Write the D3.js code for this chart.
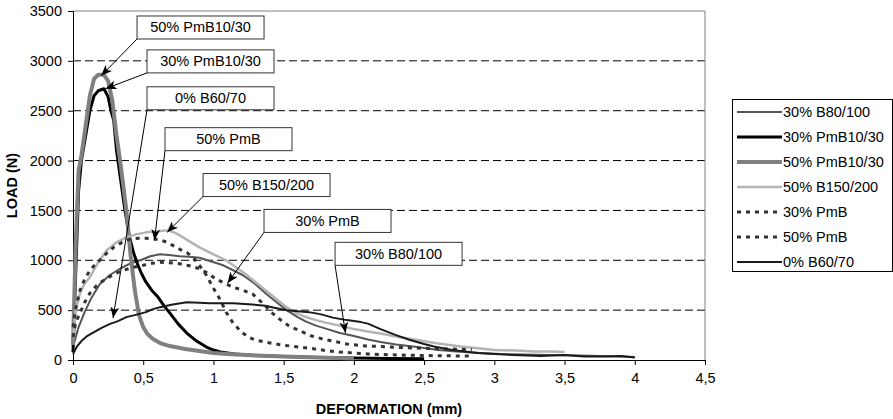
<!DOCTYPE html>
<html>
<head>
<meta charset="utf-8">
<script src="https://cdn.jsdelivr.net/npm/d3@7"></script>
<style>
  body { margin: 0; background: #fff; }
  svg { display: block; font-family: "Liberation Sans", Arial, sans-serif; }
</style>
</head>
<body>
<div id="vizContainer"></div>
<script>
// deformation (mm), load (N) pairs
const b80_100 = [[0,130],[0.04,330],[0.08,470],[0.13,620],[0.19,760],[0.26,850],[0.34,920],[0.41,970],[0.48,1000],[0.55,1040],[0.62,1060],[0.7,1050],[0.76,1040],[0.83,1035],[0.9,1025],[0.98,990],[1.07,950],[1.14,900],[1.21,850],[1.3,760],[1.37,670],[1.45,580],[1.52,500],[1.6,430],[1.66,385],[1.73,345],[1.8,315],[1.9,270],[2.0,240],[2.1,205],[2.19,180],[2.3,155],[2.45,130],[2.6,100],[2.73,85],[2.9,70],[3.04,60],[3.2,55],[3.4,50],[3.6,45],[3.75,40],[3.9,35],[4.0,30]];
const pmb10_30_30 = [[0,80],[0.02,900],[0.04,1700],[0.06,2000],[0.09,2250],[0.12,2500],[0.15,2650],[0.18,2700],[0.22,2720],[0.25,2640],[0.27,2500],[0.29,2400],[0.31,2100],[0.34,1800],[0.37,1500],[0.4,1250],[0.43,1080],[0.46,960],[0.49,860],[0.52,780],[0.56,700],[0.6,640],[0.65,540],[0.69,470],[0.75,360],[0.81,270],[0.88,190],[0.95,130],[1.0,100],[1.05,80],[1.15,60],[1.3,45],[1.5,35],[1.75,25],[2.0,20],[2.25,15],[2.5,12]];
const pmb10_30_50 = [[0,150],[0.02,1200],[0.04,1900],[0.06,2050],[0.09,2350],[0.12,2650],[0.15,2820],[0.18,2860],[0.22,2860],[0.25,2800],[0.28,2600],[0.31,2250],[0.34,1950],[0.38,1500],[0.41,1050],[0.44,700],[0.47,450],[0.5,330],[0.53,260],[0.57,210],[0.62,170],[0.69,140],[0.8,110],[0.9,90],[1.0,70],[1.1,60],[1.3,45],[1.5,35],[1.75,25],[2.0,15]];
const b150_200 = [[0,230],[0.02,500],[0.05,670],[0.08,760],[0.12,830],[0.18,980],[0.24,1100],[0.31,1180],[0.38,1230],[0.45,1260],[0.52,1280],[0.6,1290],[0.67,1300],[0.72,1280],[0.76,1250],[0.83,1190],[0.9,1130],[1.0,1060],[1.09,1000],[1.16,930],[1.23,860],[1.3,780],[1.37,700],[1.45,610],[1.52,530],[1.59,470],[1.66,430],[1.73,400],[1.8,375],[1.9,345],[2.0,310],[2.1,285],[2.19,265],[2.3,235],[2.45,200],[2.6,165],[2.76,135],[2.9,115],[3.0,100],[3.15,95],[3.28,85],[3.4,85],[3.5,80]];
const pmb_30 = [[0,230],[0.02,380],[0.05,470],[0.08,570],[0.12,670],[0.17,750],[0.22,800],[0.29,860],[0.36,900],[0.43,930],[0.5,950],[0.56,970],[0.62,980],[0.69,975],[0.76,965],[0.83,945],[0.9,915],[0.96,870],[1.02,810],[1.08,770],[1.14,730],[1.21,700],[1.28,660],[1.35,570],[1.42,470],[1.48,400],[1.54,340],[1.62,290],[1.7,240],[1.78,210],[1.85,190],[1.95,160],[2.09,140],[2.2,135],[2.33,125],[2.45,120],[2.57,115],[2.7,110],[2.84,105]];
const pmb_50 = [[0,330],[0.02,520],[0.05,700],[0.08,800],[0.12,900],[0.16,960],[0.19,1000],[0.24,1070],[0.29,1130],[0.35,1180],[0.41,1215],[0.47,1220],[0.52,1220],[0.57,1215],[0.62,1205],[0.67,1180],[0.71,1150],[0.76,1110],[0.81,1080],[0.86,1020],[0.9,950],[0.95,850],[1.0,720],[1.05,600],[1.09,480],[1.14,370],[1.2,280],[1.25,230],[1.3,200],[1.42,165],[1.52,145],[1.61,130],[1.7,115],[1.8,95],[1.9,80],[2.0,70],[2.1,60],[2.2,55],[2.33,50],[2.5,45],[2.65,42],[2.82,40]];
const b60_70 = [[0,60],[0.03,140],[0.06,190],[0.1,240],[0.15,280],[0.2,320],[0.26,360],[0.32,390],[0.38,430],[0.44,450],[0.48,465],[0.52,480],[0.57,510],[0.62,530],[0.7,555],[0.81,580],[0.9,575],[0.97,570],[1.05,570],[1.14,570],[1.25,560],[1.37,545],[1.45,520],[1.52,500],[1.6,490],[1.68,480],[1.76,460],[1.85,425],[1.95,400],[2.05,380],[2.1,365],[2.19,310],[2.3,250],[2.4,200],[2.5,160],[2.57,135],[2.7,100],[2.88,70],[3.0,60],[3.14,50],[3.33,40],[3.5,50],[3.64,35],[3.8,35],[3.9,40],[4.0,25]];

const seriesNames = ["30% B80/100", "30% PmB10/30", "50% PmB10/30", "50% B150/200", "30% PmB", "50% PmB", "0% B60/70"];
const seriesData = [b80_100, pmb10_30_30, pmb10_30_50, b150_200, pmb_30, pmb_50, b60_70];

const xTicks = [0, 0.5, 1, 1.5, 2, 2.5, 3, 3.5, 4, 4.5];
const yTicks = [0, 500, 1000, 1500, 2000, 2500, 3000, 3500];

// callouts: label, box top-left (mm, N), arrow tip (mm, N)
const calloutLabels = ["50% PmB10/30", "30% PmB10/30", "0% B60/70", "50% PmB", "50% B150/200", "30% PmB", "30% B80/100"];
const calloutBox = [[0.456,3450],[0.527,3110],[0.527,2740],[0.655,2330],[0.926,1870],[1.36,1510],[1.866,1180]];
const calloutTip = [[0.2,2850],[0.23,2720],[0.285,420],[0.58,1200],[0.67,1280],[1.1,770],[1.94,270]];

const styles = [
  { color: "#555555", width: 2 },
  { color: "#000000", width: 3 },
  { color: "#808080", width: 4 },
  { color: "#b4b4b4", width: 2.5 },
  { color: "#333333", width: 3, dash: "4,5" },
  { color: "#333333", width: 3, dash: "4,5" },
  { color: "#1a1a1a", width: 2 }
];

const width = 893, height = 419;
const fmt = d => String(d).replace(".", ",");

const svg = d3.select("#vizContainer").append("svg")
  .attr("width", width).attr("height", height);

const x = d3.scaleLinear().domain([0, 4.5]).range([73, 705]);
const y = d3.scaleLinear().domain([0, 3500]).range([360, 11]);

// gridlines
svg.append("g").selectAll("line")
  .data(yTicks.filter(t => t > 0 && t < 3500))
  .enter().append("line")
  .attr("x1", x(0)).attr("x2", x(4.5))
  .attr("y1", d => y(d)).attr("y2", d => y(d))
  .attr("stroke", "#000").attr("stroke-width", 1)
  .attr("stroke-dasharray", "8,4");

// plot frame (top / right)
svg.append("path")
  .attr("d", `M${x(0)},${y(3500)}H${x(4.5)}V${y(0)}`)
  .attr("fill", "none").attr("stroke", "#808080").attr("stroke-width", 1);

// axes
const xAxis = svg.append("g")
  .attr("transform", `translate(0,${y(0)})`)
  .call(d3.axisBottom(x).tickValues(xTicks).tickFormat(fmt).tickSize(5).tickPadding(8));
const yAxis = svg.append("g")
  .attr("transform", `translate(${x(0)},0)`)
  .call(d3.axisLeft(y).tickValues(yTicks).tickFormat(d3.format("d")).tickSize(5).tickPadding(6));
[xAxis, yAxis].forEach(g => {
  g.selectAll("path").attr("stroke", "#000");
  g.selectAll("line").attr("stroke", "#000");
  g.selectAll("text").attr("fill", "#000")
    .style("font-size", "14.5px").style("font-family", "'Liberation Sans', Arial, sans-serif");
});

// curves
const line = d3.line().x(d => x(d[0])).y(d => y(d[1])).curve(d3.curveLinear);
svg.append("g").selectAll("path")
  .data(seriesData)
  .enter().append("path")
  .attr("d", line)
  .attr("fill", "none")
  .attr("stroke", (d, i) => styles[i].color)
  .attr("stroke-width", (d, i) => styles[i].width)
  .attr("stroke-dasharray", (d, i) => styles[i].dash || null)
  .attr("stroke-linejoin", "round");

// axis titles
svg.append("text")
  .attr("x", x(2.25)).attr("y", 414)
  .attr("text-anchor", "middle")
  .style("font-size", "14.5px").style("font-weight", "bold")
  .text("DEFORMATION (mm)");
svg.append("text")
  .attr("transform", `translate(17,${(y(0) + y(3500)) / 2}) rotate(-90)`)
  .attr("text-anchor", "middle")
  .style("font-size", "14.5px").style("font-weight", "bold")
  .text("LOAD (N)");

// callouts
svg.append("defs").append("marker")
  .attr("id", "arrow")
  .attr("markerUnits", "userSpaceOnUse")
  .attr("viewBox", "0 0 10 8")
  .attr("refX", 10).attr("refY", 4)
  .attr("markerWidth", 11).attr("markerHeight", 9)
  .attr("orient", "auto")
  .append("path").attr("d", "M0,0L10,4L0,8L2.5,4z").attr("fill", "#000");

const boxW = 127, boxH = 23;
const callouts = svg.append("g").selectAll("g")
  .data(calloutLabels)
  .enter().append("g");
callouts.append("line")
  .attr("x1", (d, i) => x(calloutBox[i][0]))
  .attr("y1", (d, i) => y(calloutBox[i][1]) + boxH)
  .attr("x2", (d, i) => x(calloutTip[i][0]))
  .attr("y2", (d, i) => y(calloutTip[i][1]))
  .attr("stroke", "#000").attr("stroke-width", 1)
  .attr("marker-end", "url(#arrow)");
callouts.append("rect")
  .attr("x", (d, i) => x(calloutBox[i][0]))
  .attr("y", (d, i) => y(calloutBox[i][1]))
  .attr("width", boxW).attr("height", boxH)
  .attr("fill", "#fff").attr("stroke", "#333").attr("stroke-width", 1);
callouts.append("text")
  .attr("x", (d, i) => x(calloutBox[i][0]) + boxW / 2)
  .attr("y", (d, i) => y(calloutBox[i][1]) + 16.5)
  .attr("text-anchor", "middle")
  .style("font-size", "14.5px")
  .text(d => d);

// legend
const legend = svg.append("g");
legend.append("rect")
  .attr("x", 732.5).attr("y", 99.5).attr("width", 160).attr("height", 172)
  .attr("fill", "#fff").attr("stroke", "#000").attr("stroke-width", 1);
const items = legend.selectAll("g.item")
  .data(seriesNames)
  .enter().append("g")
  .attr("transform", (d, i) => `translate(0,${112 + i * 25})`);
items.append("line")
  .attr("x1", 737).attr("x2", 782).attr("y1", 0).attr("y2", 0)
  .attr("stroke", (d, i) => styles[i].color)
  .attr("stroke-width", (d, i) => styles[i].width)
  .attr("stroke-dasharray", (d, i) => styles[i].dash || null);
items.append("text")
  .attr("x", 783).attr("y", 5)
  .style("font-size", "14.5px")
  .text(d => d);
</script>
</body>
</html>
